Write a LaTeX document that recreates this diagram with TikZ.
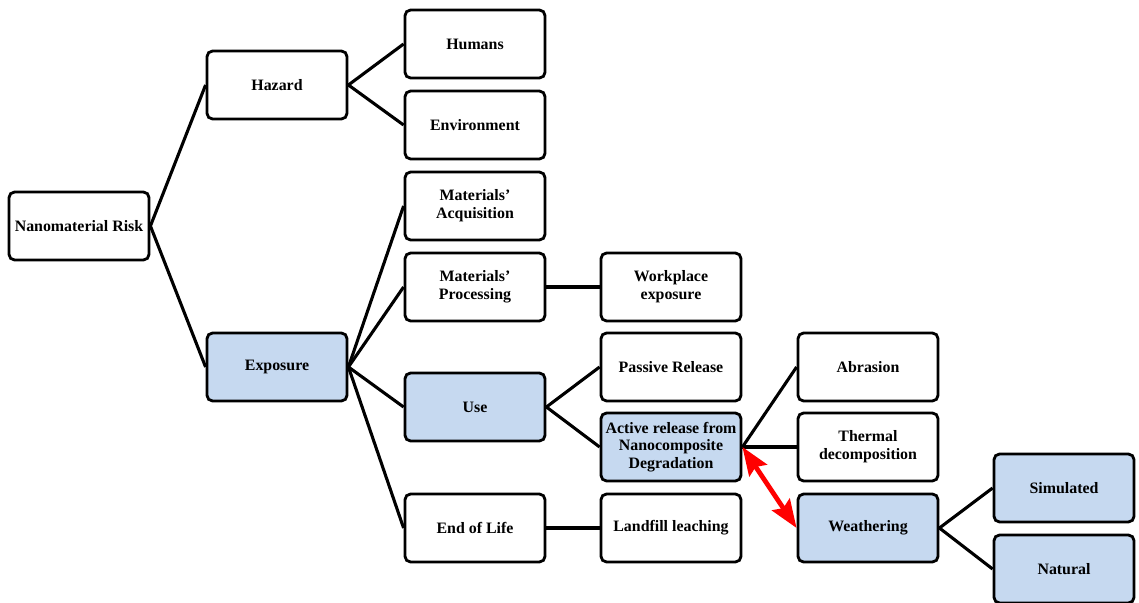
\documentclass[tikz,border=0pt]{standalone}
\usepackage{fontspec}
\setmainfont{Liberation Serif}
\usepackage{xcolor}
\usetikzlibrary{arrows.meta}

\definecolor{boxblue}{HTML}{C6D9F0}

\begin{document}
\begin{tikzpicture}[
  x=0.025cm, y=-0.025cm,
  box/.style={rectangle, draw, line width=2pt, rounded corners=4pt, minimum width=3.5cm, minimum height=1.7cm, align=center, font=\bfseries\fontsize{11.3}{12.6}\selectfont, inner sep=2pt},
  hl/.style={box, fill=boxblue},
  link/.style={line width=2.2pt},
  swap/.style={red, line width=3.4pt, {Stealth[width=15pt,length=20pt,inset=3pt]}-{Stealth[width=15pt,length=20pt,inset=3pt]}}
]
\useasboundingbox (0,0) rectangle (1139,603);

\node[box] (risk) at (79,226) {Nanomaterial Risk};
\node[box] (hazard) at (277,85) {Hazard};
\node[hl] (exposure) at (277,367) {Exposure};

\node[box] (humans) at (475,44) {Humans};
\node[box] (env) at (475,125) {Environment};
\node[box] (acq) at (475,206) {Materials’\\Acquisition};
\node[box] (proc) at (475,287) {Materials’\\Processing};
\node[hl] (use) at (475,407) {Use};
\node[box] (eol) at (475,528) {End of Life};

\node[box] (work) at (671,287) {Workplace\\exposure};
\node[box] (passive) at (671,367) {Passive Release};
\node[hl] (active) at (671,447) {Active release from\\Nanocomposite\\Degradation};
\node[box] (landfill) at (671,528) {Landfill leaching};

\node[box] (abrasion) at (868,367) {Abrasion};
\node[box] (thermal) at (868,447) {Thermal\\decomposition};
\node[hl] (weather) at (868,528) {Weathering};

\node[hl] (sim) at (1064,488) {Simulated};
\node[hl] (nat) at (1064,569) {Natural};

\draw[link] (risk.east) -- (hazard.west);
\draw[link] (risk.east) -- (exposure.west);
\draw[link] (hazard.east) -- (humans.west);
\draw[link] (hazard.east) -- (env.west);
\draw[link] (exposure.east) -- (acq.west);
\draw[link] (exposure.east) -- (proc.west);
\draw[link] (exposure.east) -- (use.west);
\draw[link] (exposure.east) -- (eol.west);
\draw[link] (proc.east) -- (work.west);
\draw[link] (use.east) -- (passive.west);
\draw[link] (use.east) -- (active.west);
\draw[link] (eol.east) -- (landfill.west);
\draw[link] (active.east) -- (abrasion.west);
\draw[link] (active.east) -- (thermal.west);
\draw[link] (weather.east) -- (sim.west);
\draw[link] (weather.east) -- (nat.west);

\draw[swap] (active.east) -- (weather.west);

\end{tikzpicture}
\end{document}
